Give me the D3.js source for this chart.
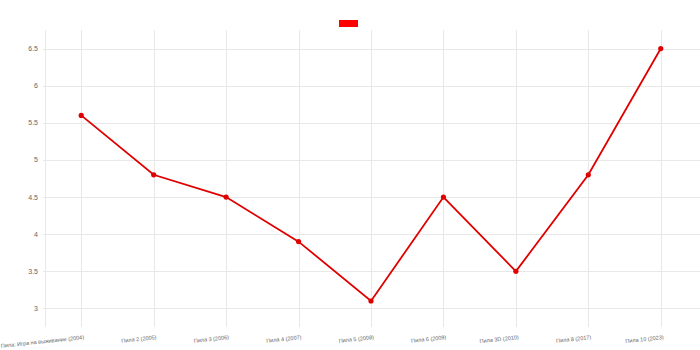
<!DOCTYPE html>
<html>
<head>
<meta charset="utf-8">
<script src="https://cdn.jsdelivr.net/npm/d3@7"></script>
<style>
body { margin: 0; background: #fff; }
svg { display: block; font-family: "Liberation Sans", Arial, sans-serif; }
</style>
</head>
<body>
<script>
var films = ["Пила: Игра на выживание (2004)", "Пила 2 (2005)", "Пила 3 (2006)", "Пила 4 (2007)",
	"Пила 5 (2008)", "Пила 6 (2009)", "Пила 3D (2010)", "Пила 8 (2017)", "Пила 10 (2023)"];
var ratings = [5.6, 4.8, 4.5, 3.9, 3.1, 4.5, 3.5, 4.8, 6.5];
var yTicks = [3, 3.5, 4, 4.5, 5, 5.5, 6, 6.5];

var w = 700, h = 350;
var padL = 45, padR = 700, padT = 30, padB = 327;

var svg = d3.select("body").append("svg")
	.attr("width", w)
	.attr("height", h);

var x = d3.scaleBand()
	.domain(films)
	.range([padL, padR - 3]);

var y = d3.scaleLinear()
	.domain([2.75, 6.75])
	.range([padB, padT]);

function cx(d) { return x(d) + x.bandwidth() / 2; }

// horizontal grid
svg.append("g").selectAll("line")
	.data(yTicks)
	.enter().append("line")
	.attr("x1", padL - 2)
	.attr("x2", padR)
	.attr("y1", function(d) { return Math.round(y(d)) + 0.5; })
	.attr("y2", function(d) { return Math.round(y(d)) + 0.5; })
	.attr("stroke", "#e8e8e8");

// vertical grid
svg.append("g").selectAll("line")
	.data(films)
	.enter().append("line")
	.attr("x1", function(d) { return Math.round(cx(d)) + 0.5; })
	.attr("x2", function(d) { return Math.round(cx(d)) + 0.5; })
	.attr("y1", padT)
	.attr("y2", padB)
	.attr("stroke", "#e8e8e8");

// left axis line
svg.append("line")
	.attr("x1", padL + 0.5).attr("x2", padL + 0.5)
	.attr("y1", padT).attr("y2", padB)
	.attr("stroke", "#e8e8e8");

// y tick labels
svg.append("g").selectAll("text")
	.data(yTicks)
	.enter().append("text")
	.attr("x", padL - 7)
	.attr("y", function(d) { return y(d); })
	.attr("dy", "0.35em")
	.attr("text-anchor", "end")
	.attr("font-size", 7)
	.attr("fill", "#666")
	.text(function(d) { return d; });

// x tick labels, slightly rotated
svg.append("g").selectAll("text")
	.data(films)
	.enter().append("text")
	.attr("text-anchor", "end")
	.attr("font-size", 5.5)
	.attr("fill", "#666")
	.attr("transform", function(d) { return "translate(" + (cx(d) + 3) + "," + 339 + ") rotate(-6)"; })
	.text(function(d) { return d; });

// line
var line = d3.line()
	.x(function(d, i) { return cx(films[i]); })
	.y(function(d) { return y(d); });

svg.append("path")
	.datum(ratings)
	.attr("d", line)
	.attr("fill", "none")
	.attr("stroke", "#e00000")
	.attr("stroke-width", 1.8);

svg.append("g").selectAll("circle")
	.data(ratings)
	.enter().append("circle")
	.attr("cx", function(d, i) { return cx(films[i]); })
	.attr("cy", function(d) { return y(d); })
	.attr("r", 2.6)
	.attr("fill", "#e00000");

// legend box (empty label)
svg.append("rect")
	.attr("x", 339)
	.attr("y", 20)
	.attr("width", 19)
	.attr("height", 7)
	.attr("fill", "#ff0000");
</script>
</body>
</html>
